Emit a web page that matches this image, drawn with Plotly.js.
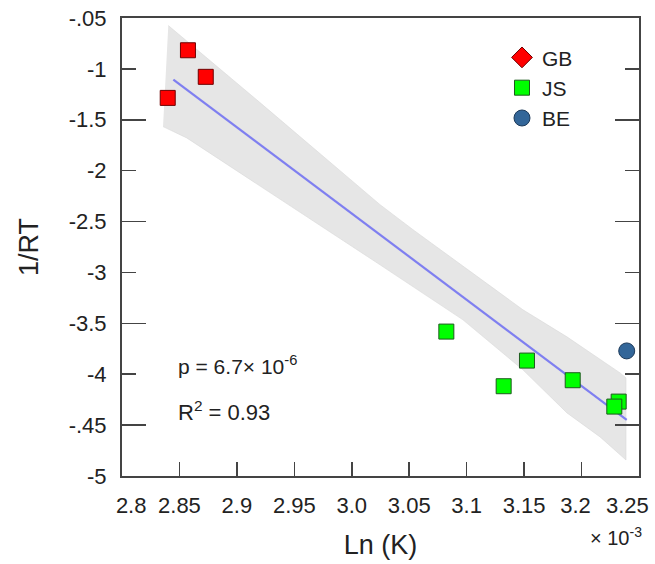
<!DOCTYPE html>
<html>
<head>
<meta charset="utf-8">
<script src="https://cdn.plot.ly/plotly-3.0.1.min.js"></script>
<style>html,body{margin:0;padding:0;background:#fff;}#chart{width:655px;height:564px;}</style>
</head>
<body>
<div id="chart"></div>
<script>
// ---- data (x in units of 10^-3) ----
var gbX = [2.8574, 2.8729, 2.8398];
var gbY = [-0.817, -1.078, -1.285];
var jsX = [3.0823, 3.1525, 3.1322, 3.1923, 3.2323, 3.2285];
var jsY = [-3.581, -3.866, -4.118, -4.059, -4.269, -4.318];
var beX = [3.2393];
var beY = [-3.771];
var fitX = [2.8447, 3.2393];
var fitY = [-1.105, -4.449];
var bandUpperX = [2.8403, 2.9201, 3.0246, 3.0533, 3.1490, 3.1873, 3.2335, 3.2387];
var bandUpperY = [-0.574, -1.331, -2.334, -2.580, -3.367, -3.633, -3.987, -4.036];
var bandLowerX = [2.8357, 2.8563, 3.0246, 3.0533, 3.0968, 3.1490, 3.1873, 3.2161, 3.2387];
var bandLowerY = [-1.567, -1.678, -2.925, -3.141, -3.466, -3.957, -4.380, -4.616, -4.843];
var xTickVals = [2.8, 2.85, 2.9, 2.95, 3.0, 3.05, 3.1, 3.15, 3.2, 3.25];
var xTickText = ['&nbsp;&nbsp;&nbsp;2.8', '2.85', '2.9', '2.95', '3.0', '3.05', '3.1', '3.15', '3.2&nbsp;&nbsp;', ''];
var xLastTickLabel = '3.25';
var yTickVals = [-0.5, -1, -1.5, -2, -2.5, -3, -3.5, -4, -4.5, -5];
var yTickText = ['-.05', '-1', '-1.5', '-2', '-2.5', '-3', '-3.5', '-4', '-.45', '-5'];
var yLongTicks = [-1.5, -2.5, -3.5, -4.5];
var seriesNames = ['GB', 'JS', 'BE'];

// ---- build ----
var FONT = 'Liberation Sans, Arial, sans-serif';
var TXT = '#222222';
var AX = '#444444';

var bandX = bandUpperX.concat(bandLowerX.slice().reverse());
var bandY = bandUpperY.concat(bandLowerY.slice().reverse());

var traces = [
  {x: bandX, y: bandY, type: 'scatter', mode: 'lines', fill: 'toself',
   fillcolor: '#e6e6e6', line: {width: 0.6, color: '#d8d8d8'}, hoverinfo: 'skip', showlegend: false},
  {x: fitX, y: fitY, type: 'scatter', mode: 'lines',
   line: {color: '#7f7ff0', width: 2.2}, showlegend: false},
  {x: [null], y: [null], type: 'scatter', mode: 'markers', name: seriesNames[0],
   marker: {symbol: 'diamond', size: 16, color: '#ff0000', line: {color: '#6e0000', width: 1}}},
  {x: gbX, y: gbY, type: 'scatter', mode: 'markers', name: seriesNames[0], showlegend: false,
   marker: {symbol: 'square', size: 15, color: '#ff0000', line: {color: '#6e0000', width: 1}}},
  {x: jsX, y: jsY, type: 'scatter', mode: 'markers', name: seriesNames[1],
   marker: {symbol: 'square', size: 15, color: '#00ff00', line: {color: '#1e5a1e', width: 1}}},
  {x: beX, y: beY, type: 'scatter', mode: 'markers', name: seriesNames[2],
   marker: {symbol: 'circle', size: 16, color: '#336699', line: {color: '#1d3a5a', width: 1}}},
  {x: [null], y: [null], type: 'scatter', mode: 'markers', yaxis: 'y2', showlegend: false, hoverinfo: 'skip'}
];

var layout = {
  width: 655, height: 564,
  margin: {l: 122, r: 16, t: 18, b: 88},
  paper_bgcolor: '#ffffff', plot_bgcolor: '#ffffff',
  font: {family: FONT, color: TXT, size: 22},
  showlegend: true,
  legend: {x: 0.735, y: 0.958, xanchor: 'left', yanchor: 'top',
           bgcolor: 'rgba(0,0,0,0)', font: {size: 21, family: FONT, color: TXT},
           traceorder: 'normal', itemclick: false},
  xaxis: {
    range: [2.8, 3.25], tickmode: 'array', tickvals: xTickVals, ticktext: xTickText,
    ticks: 'inside', ticklen: 14, tickwidth: 1.5, tickcolor: AX,
    showline: true, linewidth: 2, linecolor: AX, mirror: true,
    showgrid: false, zeroline: false, ticklabelstandoff: 9,
    tickfont: {size: 22, family: FONT, color: TXT},
    title: {text: 'Ln (K)', font: {size: 27, family: FONT, color: TXT}, standoff: 18}
  },
  yaxis: {
    range: [-5, -0.5], tickmode: 'array', tickvals: yTickVals, ticktext: yTickText,
    ticks: 'inside', ticklen: 14, tickwidth: 1.5, tickcolor: AX,
    showline: true, linewidth: 2, linecolor: AX, mirror: 'ticks',
    showgrid: false, zeroline: false, ticklabelstandoff: 9,
    tickfont: {size: 22, family: FONT, color: TXT},
    title: {text: '1/RT', font: {size: 27, family: FONT, color: TXT}, standoff: 22}
  },
  yaxis2: {
    overlaying: 'y', side: 'left', anchor: 'x', range: [-5, -0.5],
    tickmode: 'array', tickvals: yLongTicks, showticklabels: false,
    ticks: 'inside', ticklen: 24, tickwidth: 1.5, tickcolor: AX,
    showline: true, linewidth: 2, linecolor: AX, mirror: 'ticks',
    showgrid: false, zeroline: false
  },
  annotations: [
    {xref: 'x', yref: 'paper', x: xTickVals[xTickVals.length - 1], y: -0.064,
     xanchor: 'right', yanchor: 'middle', xshift: 12,
     text: xLastTickLabel, showarrow: false, font: {size: 22, family: FONT, color: TXT}},
    {xref: 'paper', yref: 'paper', x: 0.104, y: 0.243, xanchor: 'left', yanchor: 'middle',
     text: 'p = 6.7× 10<sup>-6</sup>', showarrow: false, font: {size: 21, family: FONT, color: TXT}},
    {xref: 'paper', yref: 'paper', x: 0.104, y: 0.142, xanchor: 'left', yanchor: 'middle',
     text: 'R<sup>2</sup> = 0.93', showarrow: false, font: {size: 22, family: FONT, color: TXT}},
    {xref: 'paper', yref: 'paper', x: 1.01, y: -0.133, xanchor: 'right', yanchor: 'middle',
     text: '× 10<sup>-3</sup>', showarrow: false, font: {size: 20, family: FONT, color: TXT}}
  ]
};

Plotly.newPlot('chart', traces, layout, {displayModeBar: false, staticPlot: true});
</script>
</body>
</html>
